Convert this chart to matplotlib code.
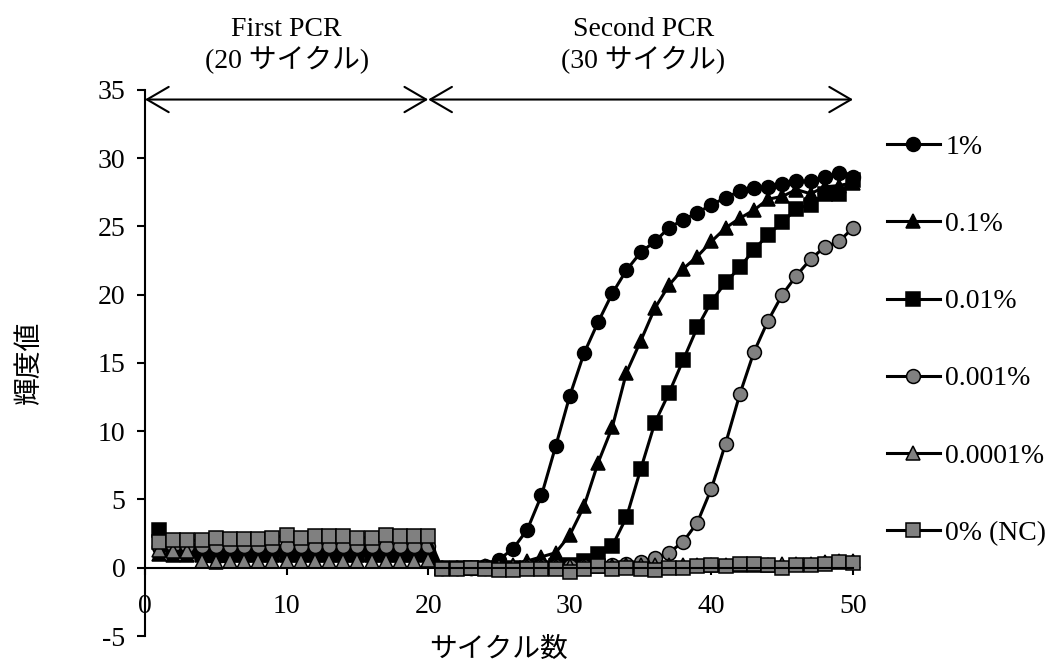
import numpy as np
import matplotlib
matplotlib.use("Agg")
import matplotlib.pyplot as plt

plt.rcParams['font.family'] = ['Liberation Serif', 'Noto Sans CJK JP']
plt.rcParams['font.size'] = 20
plt.rcParams['axes.unicode_minus'] = False

cycles = list(range(1, 51))

# first PCR (1-20) + second PCR (21-50)
p1 = [1.5, 1.3, 1.2, 1.1, 1.1, 1.1, 1.1, 1.1, 1.2, 1.2, 1.2, 1.2, 1.2, 1.2, 1.2, 1.2, 1.2, 1.2, 1.2, 1.2,
      0.0, 0.0, 0.0, 0.1, 0.6, 1.4, 2.8, 5.3, 8.9, 12.6, 15.7, 18.0, 20.1, 21.8, 23.1, 23.9, 24.9, 25.5, 26.0, 26.6,
      27.1, 27.6, 27.8, 27.9, 28.1, 28.3, 28.3, 28.6, 28.9, 28.6]
p01 = [1.0, 0.9, 0.9, 0.9, 0.9, 0.9, 0.9, 0.9, 0.9, 0.9, 0.9, 0.9, 0.9, 0.9, 0.9, 0.9, 0.9, 0.9, 0.9, 0.9,
       0.0, 0.0, 0.0, 0.0, 0.1, 0.2, 0.5, 0.8, 1.1, 2.4, 4.5, 7.7, 10.3, 14.3, 16.6, 19.0, 20.7, 21.9, 22.8, 23.9,
       24.9, 25.6, 26.2, 27.0, 27.2, 27.7, 27.4, 27.9, 28.0, 28.2]
p001 = [2.8, 1.3, 1.2, 1.1, 1.1, 1.1, 1.1, 1.1, 1.1, 1.1, 1.1, 1.1, 1.1, 1.1, 1.1, 1.1, 1.1, 1.1, 1.1, 1.1,
        0.0, 0.0, 0.0, 0.0, 0.0, 0.0, 0.0, 0.0, 0.1, 0.2, 0.5, 1.0, 1.6, 3.7, 7.2, 10.6, 12.8, 15.2, 17.6, 19.5,
        20.9, 22.0, 23.3, 24.4, 25.3, 26.3, 26.6, 27.4, 27.4, 28.4]
p0001 = [1.6, 1.6, 1.6, 1.6, 1.6, 1.6, 1.6, 1.6, 1.6, 1.6, 1.6, 1.6, 1.6, 1.6, 1.6, 1.6, 1.6, 1.6, 1.6, 1.6,
         0.0, 0.0, 0.0, 0.0, 0.0, 0.0, 0.1, 0.1, 0.1, 0.1, 0.1, 0.2, 0.2, 0.3, 0.4, 0.7, 1.1, 1.9, 3.3, 5.8,
         9.1, 12.7, 15.8, 18.1, 20.0, 21.4, 22.6, 23.5, 23.9, 24.9]
p00001 = [1.3, 1.2, 1.2, 0.5, 0.4, 0.5, 0.5, 0.5, 0.5, 0.5, 0.5, 0.5, 0.5, 0.5, 0.5, 0.5, 0.5, 0.5, 0.5, 0.6,
          0.0, 0.0, 0.0, 0.1, 0.1, 0.1, 0.1, 0.1, 0.1, 0.1, 0.1, 0.1, 0.1, 0.2, 0.2, 0.2, 0.2, 0.2, 0.2, 0.2,
          0.2, 0.2, 0.2, 0.2, 0.3, 0.3, 0.3, 0.4, 0.5, 0.5]
p0 = [1.9, 2.0, 2.0, 2.0, 2.2, 2.1, 2.1, 2.1, 2.2, 2.4, 2.2, 2.3, 2.3, 2.3, 2.2, 2.2, 2.4, 2.3, 2.3, 2.3,
      -0.1, -0.1, -0.05, -0.1, -0.2, -0.2, -0.1, -0.1, -0.1, -0.3, -0.1, 0.1, -0.1, -0.05, -0.1, -0.2, 0.0, -0.05, 0.1, 0.2,
      0.1, 0.3, 0.3, 0.2, 0.0, 0.2, 0.2, 0.3, 0.4, 0.35]

labels = ['1%', '0.1%', '0.01%', '0.001%', '0.0001%', '0% (NC)']
markers = ['o', '^', 's', 'o', '^', 's']
faces = ['black', 'black', 'black', '#808080', '#808080', '#808080']
series = [p1, p01, p001, p0001, p00001, p0]

fig = plt.figure(figsize=(10.49, 6.65), dpi=100)
ax = fig.add_axes([0.1382, 0.0436, 0.6750, 0.8211])

for y, lab, m, fc in zip(series, labels, markers, faces):
    ax.plot(cycles, y, color='black', lw=2.2, marker=m, markersize=10.5 if m == '^' else 10,
            markerfacecolor=fc, markeredgecolor='black', markeredgewidth=1.1, label=lab, clip_on=False)

ax.set_xlim(0, 50)
ax.set_ylim(-5, 35)
ax.set_xticks(range(0, 51, 10))
ax.set_yticks(range(-5, 36, 5))
ax.spines['top'].set_visible(False)
ax.spines['right'].set_visible(False)
ax.spines['bottom'].set_position(('data', 0))
for s in ['left', 'bottom']:
    ax.spines[s].set_linewidth(1.5)
ax.tick_params(axis='x', direction='out', length=5, width=1.5, pad=14)
ax.tick_params(axis='y', direction='out', length=6, width=1.5, pad=8)

ax.set_ylabel('輝度値', va='center')
ax.yaxis.set_label_coords(-0.162, 0.5)
ax.set_xlabel('サイクル数', va='center')
ax.xaxis.set_label_coords(0.5, -0.027)

# PCR stage arrows
arrow = dict(arrowstyle='<->,head_length=0.6,head_width=0.35', mutation_scale=26,
             color='black', lw=1.5, shrinkA=0, shrinkB=0)
ax.annotate('', xy=(0, 34.3), xytext=(20, 34.3), arrowprops=arrow, annotation_clip=False)
ax.annotate('', xy=(20, 34.3), xytext=(50, 34.3), arrowprops=arrow, annotation_clip=False)
ax.text(10, 39.4, 'First PCR', ha='center', va='center', clip_on=False)
ax.text(10, 37.2, '(20 サイクル)', ha='center', va='center', clip_on=False)
ax.text(35.2, 39.4, 'Second PCR', ha='center', va='center', clip_on=False)
ax.text(35.2, 37.2, '(30 サイクル)', ha='center', va='center', clip_on=False)

fig.legend(loc='upper left', bbox_to_anchor=(887 / 1049, 0.7975), frameon=False, borderpad=0,
           borderaxespad=0, handlelength=1.9, handletextpad=0.2, labelspacing=1.86)

fig.savefig('out.png', dpi=100)
